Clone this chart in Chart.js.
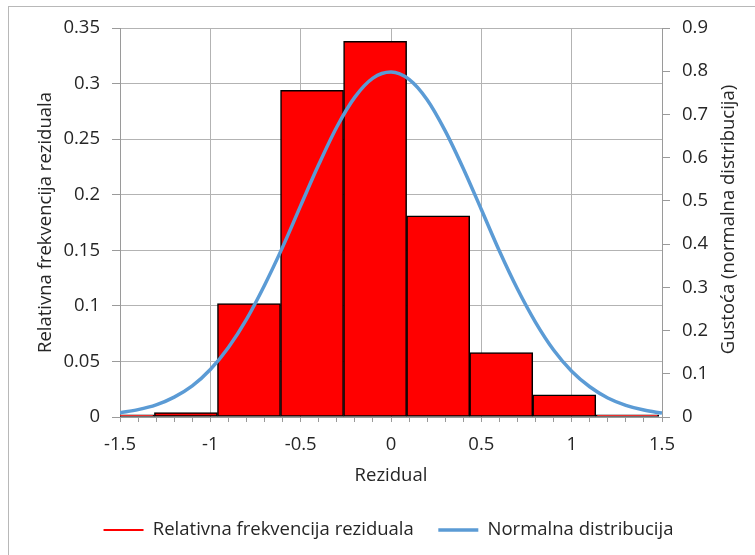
<!DOCTYPE html>
<html>
<head>
<meta charset="utf-8">
<script src="https://cdn.jsdelivr.net/npm/chart.js@4"></script>
<style>
  html, body { margin: 0; padding: 0; background: #fff; }
  #wrap { position: relative; width: 755px; height: 555px; overflow: hidden; }
  #frame { position: absolute; left: 8px; top: 6px; width: 800px; height: 600px; border: 1px solid #b8b8b8; }
  #chart { position: absolute; left: 0; top: 0; }
</style>
</head>
<body>
<div id="wrap">
  <div id="frame"></div>
  <canvas id="chart" width="755" height="555"></canvas>
</div>
<script>
// histogram bins (centres) and relative frequencies
const binCenters = [-1.484, -1.135, -0.786, -0.437, -0.088, 0.261, 0.610, 0.959, 1.308];
const binFreq = [0.002, 0.004, 0.102, 0.294, 0.338, 0.181, 0.058, 0.020, 0.002];

// normal density curve
const curveX = [-1.5, -1.4, -1.3, -1.2, -1.1, -1.0, -0.9, -0.8, -0.7, -0.6, -0.5,
                -0.4, -0.3, -0.2, -0.1, 0.0, 0.1, 0.2, 0.3, 0.4, 0.5,
                0.6, 0.7, 0.8, 0.9, 1.0, 1.1, 1.2, 1.3, 1.4, 1.5];
const curveY = [0.010, 0.017, 0.028, 0.046, 0.072, 0.110, 0.161, 0.226, 0.305, 0.393, 0.489,
                0.584, 0.671, 0.740, 0.784, 0.798, 0.781, 0.734, 0.662, 0.575, 0.480,
                0.384, 0.296, 0.219, 0.155, 0.106, 0.070, 0.044, 0.027, 0.016, 0.009];

const xTickLabels = ['-1.5', '-1', '-0.5', '0', '0.5', '1', '1.5'];
const yTickLabels = ['0', '0.05', '0.1', '0.15', '0.2', '0.25', '0.3', '0.35'];
const y2TickLabels = ['0', '0.1', '0.2', '0.3', '0.4', '0.5', '0.6', '0.7', '0.8', '0.9'];

const xTitle = 'Rezidual';
const yTitle = 'Relativna frekvencija reziduala';
const y2Title = 'Gustoća (normalna distribucija)';
const seriesNames = ['Relativna frekvencija reziduala', 'Normalna distribucija'];

const gridColor = '#b3b3b3';
const axisColor = '#9a9a9a';
const textColor = '#262626';
const fontFamily = "'Open Sans', sans-serif";
const fontSize = 18.5;
const legendColors = ['#ff0000', '#5b9bd5'];
const legendWidths = [2, 3.5];

// right axis title reads bottom-to-top in the original
const rightTitle = {
    id: 'rightTitle',
    afterDraw(chart) {
        const s = chart.scales.y2;
        const area = chart.chartArea;
        const ctx = chart.ctx;
        ctx.save();
        ctx.translate(s.right - 23, (area.top + area.bottom) / 2 - 3);
        ctx.rotate(-Math.PI / 2);
        ctx.font = fontSize + 'px ' + fontFamily;
        ctx.fillStyle = textColor;
        ctx.textAlign = 'center';
        ctx.textBaseline = 'middle';
        ctx.fillText(y2Title, 0, 0);
        ctx.restore();
    }
};

new Chart(document.getElementById('chart'), {
    type: 'bar',
    data: {
        datasets: [{
            type: 'bar',
            label: seriesNames[0],
            data: binCenters.map((c, i) => ({ x: c, y: binFreq[i] })),
            backgroundColor: '#ff0000',
            borderColor: '#000000',
            borderWidth: 1.5,
            borderSkipped: false,
            barPercentage: 1,
            categoryPercentage: 1,
            xAxisID: 'x',
            yAxisID: 'y',
            order: 2
        }, {
            type: 'line',
            label: seriesNames[1],
            data: curveX.map((x, i) => ({ x: x, y: curveY[i] })),
            borderColor: '#5b9bd5',
            borderWidth: 3.5,
            pointRadius: 0,
            tension: 0.4,
            cubicInterpolationMode: 'monotone',
            fill: false,
            xAxisID: 'x',
            yAxisID: 'y2',
            order: 1
        }]
    },
    options: {
        responsive: false,
        animation: false,
        layout: { padding: { top: 28, left: 25, right: 3, bottom: 5.75 } },
        plugins: {
            tooltip: { enabled: false },
            legend: {
                position: 'bottom',
                labels: {
                    usePointStyle: true,
                    pointStyleWidth: 40,
                    padding: 24.5,
                    color: textColor,
                    font: { family: fontFamily, size: fontSize },
                    generateLabels: chart => chart.data.datasets.map((ds, i) => ({
                        text: ds.label,
                        pointStyle: 'line',
                        strokeStyle: legendColors[i],
                        fillStyle: legendColors[i],
                        lineWidth: legendWidths[i],
                        fontColor: textColor,
                        hidden: false,
                        datasetIndex: i
                    }))
                }
            }
        },
        scales: {
            x: {
                type: 'linear',
                position: 'bottom',
                weight: 1,
                min: -1.5,
                max: 1.5,
                offset: false,
                ticks: {
                    stepSize: 0.5,
                    padding: 12,
                    maxRotation: 0,
                    color: textColor,
                    font: { family: fontFamily, size: fontSize },
                    callback: (v, i) => xTickLabels[i]
                },
                grid: { color: gridColor, offset: false, drawTicks: false },
                border: { display: false },
                title: {
                    display: true,
                    text: xTitle,
                    color: textColor,
                    font: { family: fontFamily, size: fontSize, lineHeight: 1 },
                    padding: { top: 0, bottom: 11 }
                },
                afterFit: s => { s.height = 74.25; }
            },
            x2: {
                type: 'linear',
                position: 'bottom',
                weight: 0,
                min: -1.5,
                max: 1.5,
                offset: false,
                ticks: { display: false, stepSize: 0.1 },
                grid: { drawOnChartArea: false, tickLength: 5, color: axisColor, offset: false },
                border: { display: true, color: axisColor }
            },
            y: {
                position: 'left',
                min: 0,
                max: 0.35,
                ticks: {
                    stepSize: 0.05,
                    padding: 12,
                    color: textColor,
                    font: { family: fontFamily, size: fontSize },
                    callback: (v, i) => yTickLabels[i]
                },
                grid: { color: gridColor, tickLength: 8, tickColor: axisColor },
                border: { color: axisColor },
                title: {
                    display: true,
                    text: yTitle,
                    color: textColor,
                    font: { family: fontFamily, size: fontSize },
                    padding: { top: 10, bottom: 0 }
                },
                afterFit: s => { s.width = 95; }
            },
            y2: {
                position: 'right',
                min: 0,
                max: 0.9,
                ticks: {
                    stepSize: 0.1,
                    padding: 12,
                    color: textColor,
                    font: { family: fontFamily, size: fontSize },
                    callback: (v, i) => y2TickLabels[i]
                },
                grid: { drawOnChartArea: false, tickLength: 8, color: axisColor },
                border: { color: axisColor },
                afterFit: s => { s.width = 90; }
            }
        }
    },
    plugins: [rightTitle]
});
</script>
</body>
</html>
